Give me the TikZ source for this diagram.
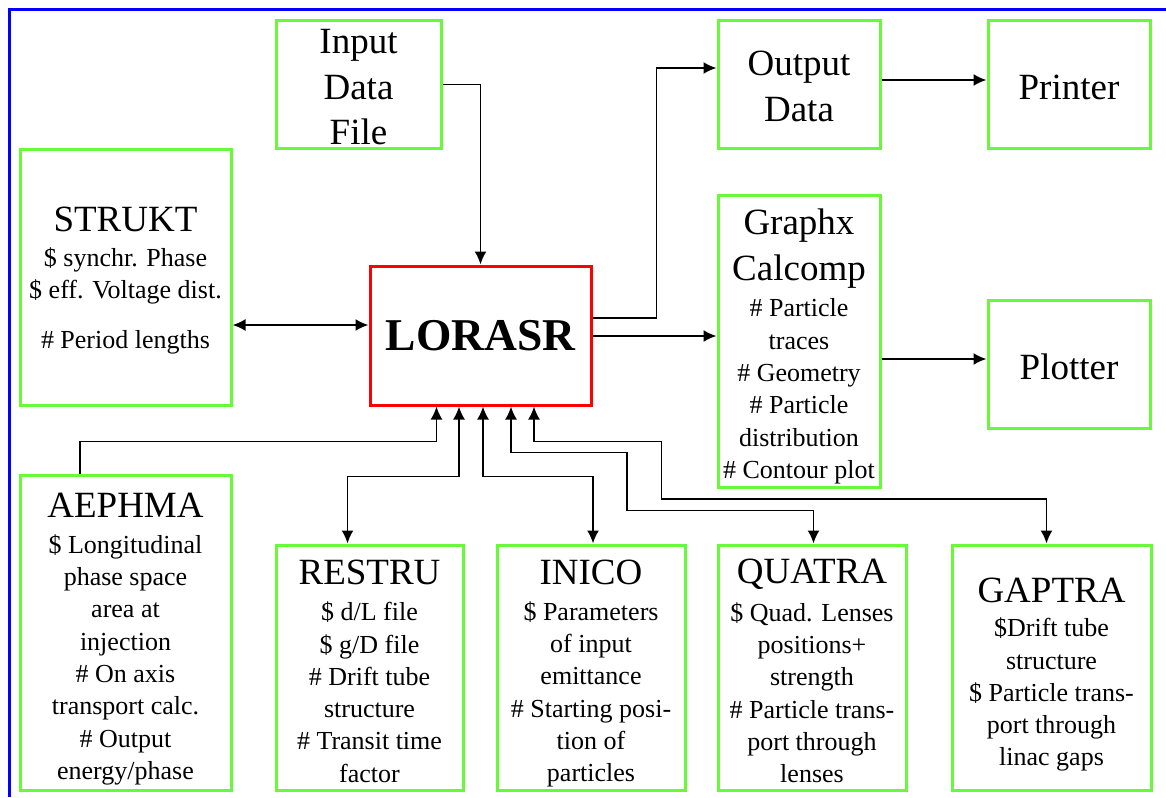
\documentclass[tikz,border=0pt]{standalone}
\usepackage{fontspec}
\setmainfont{Liberation Serif}
\usetikzlibrary{arrows.meta}
\definecolor{boxgreen}{RGB}{102,250,56}
\begin{document}
\begin{tikzpicture}[x=1pt, y=-1pt, >={Latex[length=13pt,width=12pt]},
  prog/.style={draw=boxgreen, line width=3pt, align=center, inner sep=2pt,
    font=\fontsize{26}{32.3}\selectfont},
  dev/.style={draw=boxgreen, line width=3pt, align=center, inner sep=2pt,
    font=\fontsize{37}{45.5}\selectfont},
  link/.style={line width=1.9pt}]
\useasboundingbox (0,0) rectangle (1166,797);
\draw[blue, line width=3pt] (9.5,797) -- (9.5,9.5) -- (1166,9.5);
% main program
\node[draw=red, line width=3pt, minimum width=221, minimum height=139,
  font=\fontsize{45.5}{50}\selectfont\bfseries] (lorasr) at (480.5,335.5) {LORASR};
% files and devices
\node[dev, minimum width=165, minimum height=128] (input) at (358.5,84.5) {\rule{0pt}{30pt}Input\\Data\\File};
\node[dev, minimum width=162, minimum height=127] (outdata) at (799,84.5) {\rule{0pt}{28pt}Output\\Data};
\node[dev, minimum width=162, minimum height=127] (printer) at (1069,84.5) {\rule{0pt}{31pt}Printer};
\node[dev, minimum width=162, minimum height=128] (plotter) at (1069,364) {\rule{0pt}{31pt}Plotter};
\node[prog, minimum width=162, minimum height=292] (graphx) at (799,341.5)
  {{\fontsize{37}{44}\selectfont\rule{0pt}{35pt}Graphx}\\[12pt]{\fontsize{37}{44}\selectfont Calcomp}\\[4pt]
   \# Particle\\traces\\\# Geometry\\\# Particle\\distribution\\\# Contour plot};
% subroutines
\node[prog, minimum width=211, minimum height=256] (strukt) at (125.5,277)
  {{\fontsize{37}{44}\selectfont\rule{0pt}{31pt}STRUKT}\\[3pt]\$ synchr. Phase\\\$ eff. Voltage dist.\\[17pt]\# Period lengths};
\node[prog, minimum width=211, minimum height=315] (aephma) at (125.5,632.5)
  {{\fontsize{37}{44}\selectfont\rule{0pt}{37pt}AEPHMA}\\[4pt]\$ Longitudinal\\phase space\\area at\\injection\\
   \# On axis\\transport calc.\\\# Output\\energy/phase};
\node[prog, minimum width=187, minimum height=245] (restru) at (369.5,667.5)
  {{\fontsize{37}{44}\selectfont\rule{0pt}{32pt}RESTRU}\\[4pt]\$ d/L file\\\$ g/D file\\\# Drift tube\\structure\\
   \# Transit time\\factor};
\node[prog, minimum width=188, minimum height=245] (inico) at (591,667.5)
  {{\fontsize{37}{44}\selectfont\rule{0pt}{37pt}INICO}\\[3pt]\$ Parameters\\of input\\emittance\\\# Starting posi-\\
   tion of\\particles};
\node[prog, minimum width=188, minimum height=245] (quatra) at (812,667.5)
  {{\fontsize{37}{44}\selectfont\rule{0pt}{32pt}QUATRA}\\[5pt]\$ Quad. Lenses\\positions+\\strength\\\# Particle trans-\\
   port through\\lenses};
\node[prog, minimum width=199, minimum height=245] (gaptra) at (1051.5,667.5)
  {{\fontsize{37}{44}\selectfont\rule{0pt}{39pt}GAPTRA}\\[2pt]\$Drift tube\\structure\\\$ Particle trans-\\
   port through\\linac gaps};
% data flow
\draw[link,->] (input.east) -| (lorasr.north);
\draw[link,<->] (strukt.east |- 0,325) -- (lorasr.west |- 0,325);
\draw[link,->] (lorasr.east |- 0,318) -| (656.5,68) -- (outdata.west |- 0,68);
\draw[link,->] (lorasr.east |- 0,336) -- (graphx.west |- 0,336);
\draw[link,->] (outdata.east |- 0,80) -- (printer.west |- 0,80);
\draw[link,->] (graphx.east |- 0,359) -- (plotter.west |- 0,359);
\draw[link,->] (aephma.north -| 80,0) |- (436.5,441.5) -- (lorasr.south -| 436.5,0);
\draw[link,<->] (lorasr.south -| 459,0) -- (459,476.5) -| (restru.north -| 347.5,0);
\draw[link,<->] (lorasr.south -| 483,0) -- (483,476.5) -| (inico.north -| 593,0);
\draw[link,<->] (lorasr.south -| 511,0) -- (511,452.5) -| (627,510.5) -| (quatra.north -| 813.5,0);
\draw[link,<->] (lorasr.south -| 534,0) -- (534,441.5) -| (661.5,499) -| (gaptra.north -| 1046.5,0);
\end{tikzpicture}
\end{document}
